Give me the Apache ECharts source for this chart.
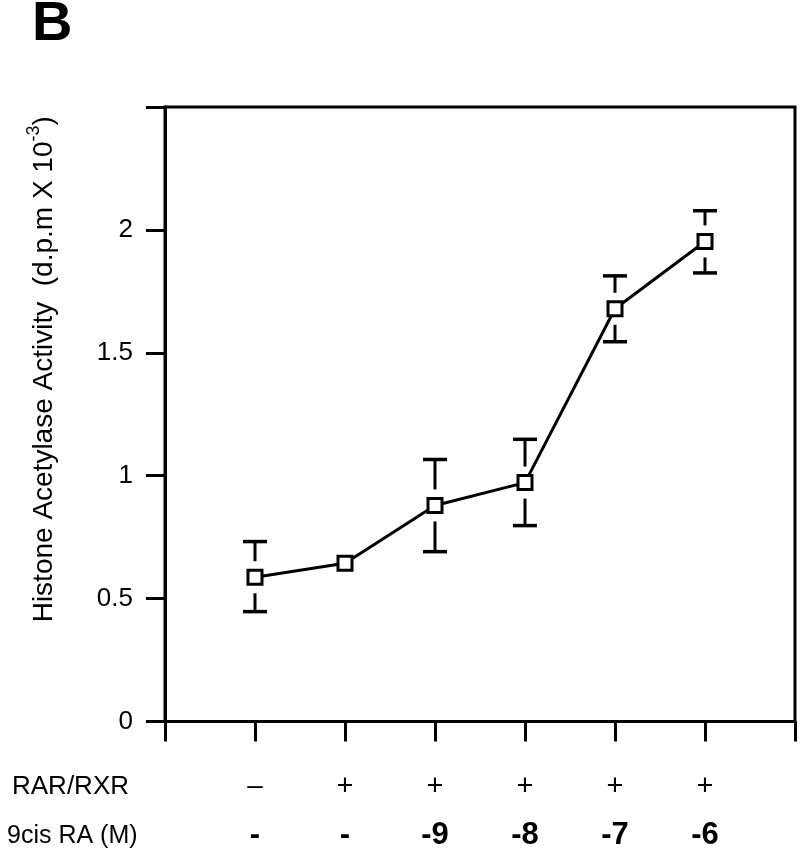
<!DOCTYPE html>
<html><head><meta charset="utf-8">
<script src="https://cdn.jsdelivr.net/npm/echarts@6/dist/echarts.min.js"></script>
<style>html,body{margin:0;padding:0;background:#fff}#c{width:800px;height:851px}</style>
</head><body><div id="c"></div>
<script>
// Data
const xPos = [1, 2, 3, 4, 5, 6];
const means = [0.587, 0.644, 0.879, 0.972, 1.679, 1.953];
const upper = [0.732, null, 1.066, 1.148, 1.813, 2.078];
const lower = [0.447, null, 0.691, 0.797, 1.545, 1.825];
const rarRow = ['–', '+', '+', '+', '+', '+'];
const raRow = ['-', '-', '-9', '-8', '-7', '-6'];
const rowHeaders = ['RAR/RXR', '9cis RA (M)'];
const yTickLabels = ['0', '0.5', '1', '1.5', '2'];
const panelLetter = 'B';
const yName = 'Histone Acetylase Activity  (d.p.m X 10';
const ySup = '-3';

const FONT = "'Liberation Sans', Arial, Helvetica, sans-serif";
const chart = echarts.init(document.getElementById('c'), null, {renderer: 'canvas'});

const lineData = xPos.map((x, i) => [x, means[i]]);
const errData = [];
xPos.forEach((x, i) => { if (upper[i] != null) errData.push([x, lower[i], upper[i], means[i]]); });

const option = {
  animation: false,
  backgroundColor: '#fff',
  title: {
    text: panelLetter, left: 32, top: -3, padding: 0,
    textStyle: {fontSize: 56, fontWeight: 'bold', fontFamily: FONT, color: '#000'}
  },
  grid: {left: 165, right: 5, top: 107, bottom: 128, show: true, borderColor: '#000', borderWidth: 3, backgroundColor: 'transparent'},
  xAxis: {
    type: 'value', min: 0, max: 7, interval: 1,
    splitLine: {show: false},
    axisLine: {lineStyle: {color: '#000', width: 3}},
    axisTick: {show: true, inside: false, length: 20, lineStyle: {color: '#000', width: 3}},
    axisLabel: {
      showMinLabel: true, showMaxLabel: true, margin: 45,
      formatter: function (v) {
        const i = xPos.indexOf(v);
        if (i < 0) return '';
        const a = rarRow[i] === '+' ? 'p' : 'd';
        const b = raRow[i].length > 1 ? 'n' : 'h';
        return '{' + a + '|' + rarRow[i] + '}\n{' + b + '|' + raRow[i] + '}';
      },
      rich: {
        p: {fontSize: 29, lineHeight: 40, fontFamily: FONT, color: '#000'},
        d: {fontSize: 28, lineHeight: 40, fontFamily: FONT, color: '#000'},
        n: {fontSize: 31, fontWeight: 'bold', lineHeight: 58, fontFamily: FONT, color: '#000'},
        h: {fontSize: 31, fontWeight: 'bold', lineHeight: 58, fontFamily: FONT, color: '#000'}
      }
    }
  },
  yAxis: {
    type: 'value', min: 0, max: 2.5, interval: 0.5,
    splitLine: {show: false},
    axisLine: {lineStyle: {color: '#000', width: 3}},
    axisTick: {show: true, inside: false, length: 19, lineStyle: {color: '#000', width: 3}},
    axisLabel: {
      margin: 32, fontSize: 26, fontFamily: FONT, color: '#000',
      formatter: function (v) {
        const k = Math.round(v * 2);
        return k < yTickLabels.length ? yTickLabels[k] : '';
      }
    },
    name: '{m|' + yName + '}{s|' + ySup + '}{m|)}',
    nameLocation: 'middle', nameGap: 107,
    nameTextStyle: {
      padding: [0, 0, 0, 90],
      rich: {
        m: {fontSize: 28, lineHeight: 33, verticalAlign: 'bottom', fontFamily: FONT, color: '#000'},
        s: {fontSize: 18, lineHeight: 33, verticalAlign: 'top', fontFamily: FONT, color: '#000'}
      }
    }
  },
  graphic: [
    {type: 'text', left: 12, top: 774, style: {text: rowHeaders[0], fontSize: 26, fontFamily: FONT, fill: '#000'}},
    {type: 'text', left: 7, top: 824, style: {text: rowHeaders[1], fontSize: 25, fontFamily: FONT, fill: '#000'}}
  ],
  series: [
    {
      type: 'custom', z: 2,
      data: errData,
      renderItem: function (params, api) {
        const x = api.value(0), lo = api.value(1), hi = api.value(2), m = api.value(3);
        const c = api.coord([x, m]), t = api.coord([x, hi]), b = api.coord([x, lo]);
        const g = 16, hw = 12;
        const st = {stroke: '#000', lineWidth: 3};
        return {
          type: 'group',
          children: [
            {type: 'line', shape: {x1: c[0], y1: t[1], x2: c[0], y2: c[1] - g}, style: st},
            {type: 'line', shape: {x1: c[0] - hw, y1: t[1], x2: c[0] + hw, y2: t[1]}, style: {stroke: '#000', lineWidth: 3.5}},
            {type: 'line', shape: {x1: c[0], y1: c[1] + g, x2: c[0], y2: b[1]}, style: st},
            {type: 'line', shape: {x1: c[0] - hw, y1: b[1], x2: c[0] + hw, y2: b[1]}, style: {stroke: '#000', lineWidth: 3.5}}
          ]
        };
      }
    },
    {
      type: 'line', z: 3,
      data: lineData,
      symbol: 'rect', symbolSize: 14,
      lineStyle: {color: '#000', width: 3},
      itemStyle: {color: '#fff', borderColor: '#000', borderWidth: 3}
    }
  ]
};
chart.setOption(option);
</script>
</body></html>
